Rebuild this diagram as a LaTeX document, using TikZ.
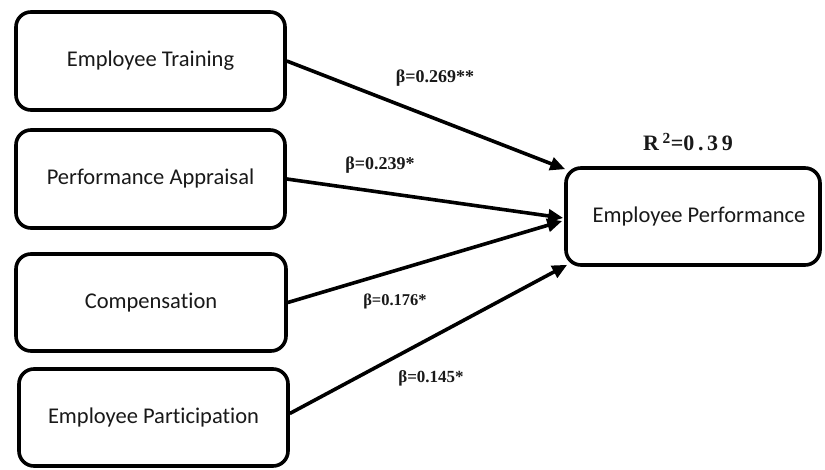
\documentclass[tikz,border=0pt]{standalone}
\usepackage{fontspec}
\setmainfont{Liberation Serif}
\newfontfamily\boxfont[Ligatures=NoCommon]{Carlito}
\usetikzlibrary{arrows.meta,calc}
\begin{document}
\begin{tikzpicture}[x=1pt,y=-1pt,
  box/.style={draw=black,line width=3.6pt,rounded corners=15pt,fill=white,
    minimum width=269pt,minimum height=98pt,inner sep=0pt,
    font=\boxfont\fontsize{22.5}{25}\selectfont,text=black!90},
  conn/.style={line width=3.6pt,-{Triangle[length=15pt,width=13pt]}},
  beta/.style={font=\bfseries\fontsize{#1}{20}\selectfont,text=black!90,inner sep=0pt}
]
\path[use as bounding box,fill=white] (0,0) rectangle (825,470);

\node[box] (b1) at (150.5,61) {Employee Training};
\node[box] (b2) at (150.5,179) {Performance Appraisal};
\node[box,minimum width=270pt,minimum height=97pt] (b3) at (151,302.5) {Compensation};
\node[box,minimum height=97pt] (b4) at (153.5,417.5) {Employee Participation};
\node[box,minimum width=254pt,minimum height=97pt] (b5) at (693,216.5) {\hspace*{12pt}Employee Performance};

\coordinate (t1) at ($(b5.north west)+(1,3)$);
\coordinate (t2) at ($(b5.west)+(-1,1.5)$);
\coordinate (t3) at ($(b5.west)+(-2,4.5)$);
\coordinate (t4) at ($(b5.south west)+(3,-2)$);

\draw[conn] (b1.east) -- (t1);
\draw[conn] (b2.east) -- (t2);
\draw[conn] (b3.east) -- (t3);
\draw[conn] ($(b4.east)+(0,-4)$) -- (t4);

\node[beta=18] (l1) at (435,78) {β=0.269**};
\node[beta=18] (l2) at (380,165) {β=0.239*};
\node[beta=16.5] (l3) at (395,301) {β=0.176*};
\node[beta=17] (l4) at (431,378) {β=0.145*};
\node[beta=22] (r2) at (688,142) {R\,\textsuperscript{2}=0\,.\,3\,9};
\end{tikzpicture}
\end{document}
